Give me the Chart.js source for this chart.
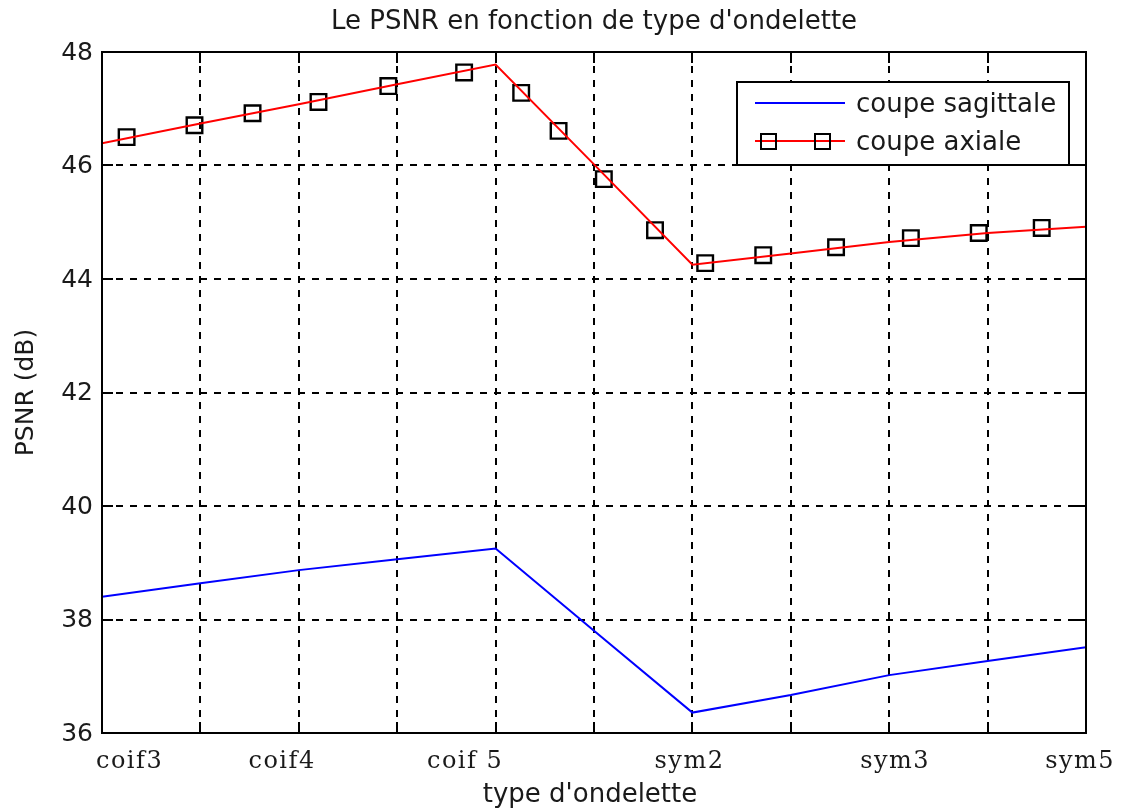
<!DOCTYPE html>
<html>
<head>
<meta charset="utf-8">
<script src="https://cdn.jsdelivr.net/npm/chart.js@4.4.0/dist/chart.umd.min.js"></script>
<style>
html, body { margin: 0; padding: 0; background: #fff; }
#wrap { width: 1122px; height: 809px; }
</style>
</head>
<body>
<div id="wrap"><canvas id="myChart" width="1122" height="809"></canvas></div>
<script>
// Graduations des axes
const xTicks = [0, 1, 2, 3, 4, 5, 6, 7, 8, 9, 10];
const yTicks = [36, 38, 40, 42, 44, 46, 48];

// Libellés de l'axe x (placés à la main dans la figure d'origine)
const xLabels = ['coif3', 'coif4', 'coif 5', 'sym2', 'sym3', 'sym5'];
const xLabelPos = [0.27, 1.82, 3.68, 5.96, 8.05, 9.93];

// Coupe sagittale (ligne bleue)
const sagittalX = [0, 1, 2, 3, 4, 5, 6, 7, 8, 9, 10];
const sagittalY = [38.40, 38.64, 38.87, 39.06, 39.25, 37.80, 36.36, 36.67, 37.02, 37.27, 37.51];

// Coupe axiale (ligne rouge)
const axialX = [0, 1, 2, 3, 4, 5, 6, 7, 8, 9, 10];
const axialY = [46.39, 46.74, 47.08, 47.43, 47.78, 46.02, 44.25, 44.45, 44.65, 44.81, 44.92];

// Coupe axiale (marqueurs carrés)
const markerX = [0.25, 0.94, 1.53, 2.20, 2.91, 3.68, 4.26, 4.64, 5.10, 5.62, 6.13, 6.72, 7.46, 8.22, 8.91, 9.55];
const markerY = [46.50, 46.71, 46.92, 47.12, 47.40, 47.64, 47.28, 46.61, 45.76, 44.86, 44.28, 44.42, 44.56, 44.72, 44.81, 44.90];

const toPoints = (xs, ys) => xs.map((v, i) => ({ x: v, y: ys[i] }));

function seg(ctx, x1, y1, x2, y2) {
    ctx.beginPath();
    ctx.moveTo(x1, y1);
    ctx.lineTo(x2, y2);
    ctx.stroke();
}

function square(ctx, cx, cy, s) {
    ctx.strokeRect(Math.round(cx - s / 2), Math.round(cy - s / 2), s, s);
}

// Dessine la grille, le cadre, les graduations et les textes façon MATLAB
const matlabAxes = {
    id: 'matlabAxes',
    beforeDatasetsDraw(chart) {
        const { ctx, chartArea: a, scales: { x, y } } = chart;
        ctx.save();
        ctx.strokeStyle = '#000';
        ctx.lineWidth = 2;
        ctx.setLineDash([7, 7]);
        xTicks.slice(1, -1).forEach(v => {
            const px = Math.round(x.getPixelForValue(v));
            seg(ctx, px, a.top, px, a.bottom);
        });
        yTicks.slice(1, -1).forEach(v => {
            const py = Math.round(y.getPixelForValue(v));
            seg(ctx, a.left, py, a.right, py);
        });
        ctx.restore();
    },
    afterDatasetsDraw(chart) {
        const { ctx, chartArea: a, scales: { x, y } } = chart;
        const tick = 11;
        ctx.save();
        ctx.strokeStyle = '#000';
        ctx.lineWidth = 2;
        ctx.setLineDash([]);

        // graduations intérieures
        xTicks.forEach(v => {
            const px = Math.round(x.getPixelForValue(v));
            seg(ctx, px, a.bottom, px, a.bottom - tick);
            seg(ctx, px, a.top, px, a.top + tick);
        });
        yTicks.forEach(v => {
            const py = Math.round(y.getPixelForValue(v));
            seg(ctx, a.left, py, a.left + tick, py);
            seg(ctx, a.right, py, a.right - tick, py);
        });

        // cadre
        ctx.strokeRect(Math.round(a.left), Math.round(a.top), Math.round(a.right - a.left), Math.round(a.bottom - a.top));

        // valeurs de l'axe y
        ctx.fillStyle = '#1a1a1a';
        ctx.font = '25px "DejaVu Sans"';
        ctx.textAlign = 'right';
        ctx.textBaseline = 'middle';
        yTicks.forEach(v => {
            ctx.fillText(String(v), a.left - 9, y.getPixelForValue(v) + 1);
        });

        // libellés de l'axe x
        ctx.font = '24px "DejaVu Serif"';
        ctx.letterSpacing = '1.5px';
        ctx.textAlign = 'center';
        xLabels.forEach((lab, i) => {
            ctx.fillText(lab, x.getPixelForValue(xLabelPos[i]) + 1, a.bottom + 29);
        });

        // titres
        ctx.font = '26px "DejaVu Sans"';
        ctx.letterSpacing = '0px';
        const cx = (a.left + a.right) / 2;
        ctx.fillText('Le PSNR en fonction de type d\'ondelette', cx, 22);
        ctx.fillText('type d\'ondelette', cx - 4, a.bottom + 62);

        ctx.save();
        ctx.translate(26, (a.top + a.bottom) / 2);
        ctx.rotate(-Math.PI / 2);
        ctx.font = '25px "DejaVu Sans"';
        ctx.fillText('PSNR (dB)', 0, 0);
        ctx.restore();

        // légende
        const lx = a.right - 349, ly = a.top + 30, lw = 332, lh = 83;
        ctx.fillStyle = '#fff';
        ctx.fillRect(lx, ly, lw, lh);
        ctx.strokeStyle = '#000';
        ctx.strokeRect(lx, ly, lw, lh);

        const y1 = ly + 21, y2 = ly + 59;
        ctx.strokeStyle = '#0000ff';
        seg(ctx, lx + 18, y1, lx + 108, y1);
        ctx.strokeStyle = '#ff0000';
        seg(ctx, lx + 18, y2, lx + 108, y2);
        ctx.strokeStyle = '#000';
        square(ctx, lx + 31, y2, 15);
        square(ctx, lx + 85, y2, 15);

        ctx.fillStyle = '#1a1a1a';
        ctx.font = '26px "DejaVu Sans"';
        ctx.textAlign = 'left';
        ctx.fillText('coupe sagittale', lx + 119, y1 + 2);
        ctx.fillText('coupe axiale', lx + 119, y2 + 2);
        ctx.restore();
    }
};

const ctx = document.getElementById('myChart').getContext('2d');
const myChart = new Chart(ctx, {
    type: 'scatter',
    data: {
        datasets: [
            {
                label: 'coupe sagittale',
                data: toPoints(sagittalX, sagittalY),
                showLine: true,
                borderColor: '#0000ff',
                borderWidth: 2,
                pointRadius: 0,
                fill: false
            },
            {
                label: 'coupe axiale',
                data: toPoints(axialX, axialY),
                showLine: true,
                borderColor: '#ff0000',
                borderWidth: 2,
                pointRadius: 0,
                fill: false
            },
            {
                label: 'coupe axiale',
                data: toPoints(markerX, markerY),
                showLine: false,
                pointStyle: 'rect',
                pointRadius: 11,
                pointBorderWidth: 2.4,
                pointBorderColor: '#000',
                pointBackgroundColor: 'rgba(0,0,0,0)'
            }
        ]
    },
    options: {
        responsive: false,
        animation: false,
        events: [],
        layout: { padding: { left: 102, top: 52, right: 36, bottom: 76 } },
        scales: {
            x: { type: 'linear', min: 0, max: 10, display: false },
            y: { type: 'linear', min: 36, max: 48, display: false }
        },
        plugins: {
            legend: { display: false },
            tooltip: { enabled: false }
        }
    },
    plugins: [matlabAxes]
});
</script>
</body>
</html>
